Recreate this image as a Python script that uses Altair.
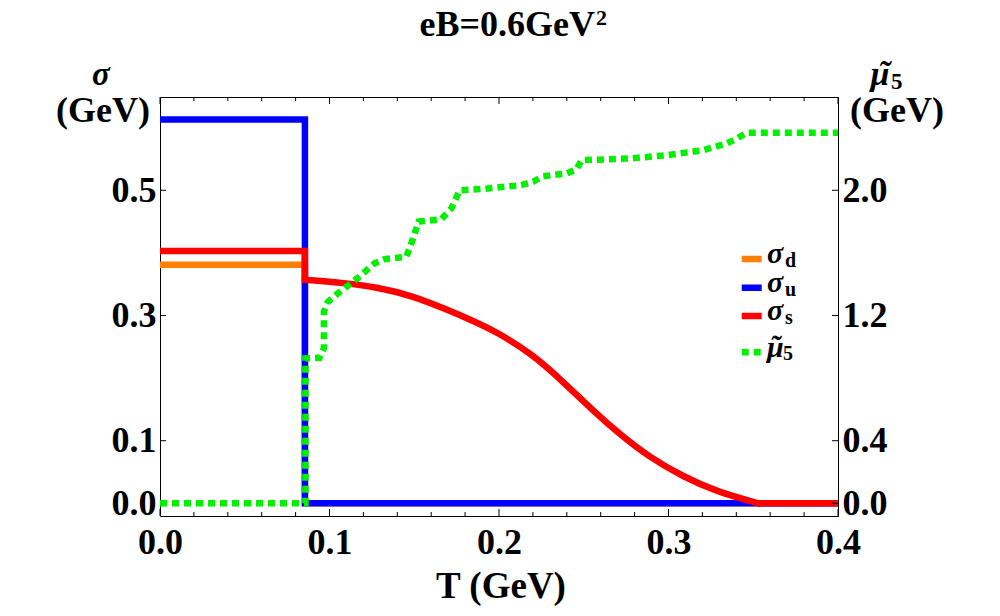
import altair as alt
import pandas as pd

# ---------------- data ----------------
sigma_d_T = [0.0, 0.0855, 0.0855, 0.4]
sigma_d = [0.381, 0.381, 0.0, 0.0]

sigma_u_T = [0.0, 0.0855, 0.0855, 0.4]
sigma_u = [0.613, 0.613, 0.0, 0.0]

# strange-quark condensate: step part, smooth part above Tc, and the zero tail
sigma_s_step_T = [0.0, 0.0855, 0.0855]
sigma_s_step = [0.403, 0.403, 0.357]
sigma_s_T = [0.0855, 0.1089, 0.1285, 0.1483, 0.168, 0.1876, 0.1975,
             0.2197, 0.2398, 0.2555, 0.2713, 0.289, 0.3087, 0.3284, 0.353]
sigma_s = [0.357, 0.352, 0.345, 0.332, 0.311, 0.288, 0.275,
           0.239, 0.189, 0.148, 0.110, 0.073, 0.0425, 0.0185, 0.0]
sigma_s_tail_T = [0.353, 0.4]
sigma_s_tail = [0.0, 0.0]

mu5_T = [0.0, 0.0858, 0.0858, 0.0941, 0.0967, 0.0967, 0.099, 0.1049, 0.1158, 0.1266,
         0.1325, 0.1453, 0.1483, 0.1526, 0.166, 0.1719, 0.1768, 0.1916, 0.2132, 0.2201,
         0.226, 0.2398, 0.2457, 0.2487, 0.2772, 0.2989, 0.3205, 0.3343, 0.3402, 0.3461, 0.4]
mu5 = [0.0, 0.0, 0.926, 0.930, 0.99, 1.224, 1.287, 1.341, 1.432, 1.533,
       1.56, 1.575, 1.66, 1.80, 1.815, 1.884, 2.0, 2.01, 2.033, 2.054,
       2.09, 2.107, 2.133, 2.192, 2.203, 2.224, 2.256, 2.299, 2.33, 2.367, 2.367]

x_major = [0.0, 0.1, 0.2, 0.3, 0.4]
x_minor = [0.02, 0.04, 0.06, 0.08, 0.12, 0.14, 0.16, 0.18, 0.22, 0.24, 0.26, 0.28,
           0.32, 0.34, 0.36, 0.38]
y_left_ticks = [0.0, 0.1, 0.3, 0.5]
y_right_ticks = [0.0, 0.4, 1.2, 2.0]

legend_names = ["σ", "σ", "σ", "μ"]
legend_subs = ["d", "u", "s", "5"]
legend_colors = ["#FF8000", "#0000FF", "#FF0000", "#00F000"]

title_text = "eB=0.6GeV"
title_sup = "2"
x_title_text = "T (GeV)"

# ---------------- styling ----------------
W, H = 678, 419
FONT = "Liberation Serif"
LW = 6.5
x_scale = alt.Scale(domain=[0, 0.4], nice=False, zero=False)
y_scale = alt.Scale(domain=[-0.0203, 0.649], nice=False, zero=False)
mu_scale = alt.Scale(domain=[-0.0812, 2.596], nice=False, zero=False)

common_axis = dict(format=".1f", ticks=False, domain=False, grid=False, title=None,
                   labelFont=FONT, labelFontSize=36, labelFontWeight="bold",
                   labelColor="black", labelFlush=False, labelOverlap=False)
x_axis = alt.Axis(values=x_major, labelPadding=9, orient="bottom", **common_axis)
y_axis = alt.Axis(values=y_left_ticks, labelPadding=4, orient="left", **common_axis)
mu_axis = alt.Axis(values=y_right_ticks, labelPadding=4, orient="right", **common_axis)


def df(T, v):
    return pd.DataFrame({"T": T, "v": v, "i": list(range(len(T)))})


def sigma_line(T, v, color, interp="linear", cap="butt"):
    return alt.Chart(df(T, v)).mark_line(
        color=color, strokeWidth=LW, strokeCap=cap, strokeJoin="miter",
        interpolate=interp, clip=True
    ).encode(
        x=alt.X("T:Q", scale=x_scale, axis=x_axis),
        y=alt.Y("v:Q", scale=y_scale, axis=y_axis),
        order=alt.Order("i:Q"),
    )


line_d = sigma_line(sigma_d_T, sigma_d, legend_colors[0])
line_u = sigma_line(sigma_u_T, sigma_u, legend_colors[1])
line_s_step = sigma_line(sigma_s_step_T, sigma_s_step, legend_colors[2], cap="square")
line_s = sigma_line(sigma_s_T, sigma_s, legend_colors[2], interp="basis", cap="round")
line_s_tail = sigma_line(sigma_s_tail_T, sigma_s_tail, legend_colors[2])


def xticks(vals, y0, y1):
    return alt.Chart(pd.DataFrame({"t": vals})).mark_rule(color="black", strokeWidth=1).encode(
        x=alt.X("t:Q", scale=x_scale, axis=x_axis),
        y=alt.value(y0), y2=alt.value(y1),
    )


tick_layers = [
    xticks(x_major, H, H - 7), xticks(x_minor, H, H - 4),
    xticks(x_major, 0, 7), xticks(x_minor, 0, 4),
]

ytick_left = alt.Chart(pd.DataFrame({"t": y_left_ticks})).mark_rule(color="black", strokeWidth=1).encode(
    y=alt.Y("t:Q", scale=y_scale, axis=y_axis),
    x=alt.value(0), x2=alt.value(6),
)

sigma_group = alt.layer(line_d, line_u, line_s_step, line_s, line_s_tail,
                        *tick_layers, ytick_left)

mu_line = alt.Chart(df(mu5_T, mu5)).mark_line(
    color=legend_colors[3], strokeWidth=LW, strokeDash=[7, 5], strokeCap="butt", clip=True
).encode(
    x=alt.X("T:Q", scale=x_scale, axis=x_axis),
    y=alt.Y("v:Q", scale=mu_scale, axis=mu_axis),
    order=alt.Order("i:Q"),
)
ytick_right = alt.Chart(pd.DataFrame({"t": y_right_ticks})).mark_rule(color="black", strokeWidth=1).encode(
    y=alt.Y("t:Q", scale=mu_scale, axis=mu_axis),
    x=alt.value(W), x2=alt.value(W - 6),
)
mu_group = alt.layer(mu_line, ytick_right)

one = alt.Data(values=[{"a": 1}])


def label(text, x, y, size, style="normal", align="center"):
    return alt.Chart(one).mark_text(
        text=text, font=FONT, fontSize=size, fontWeight="bold", fontStyle=style,
        align=align, baseline="alphabetic", color="black"
    ).encode(x=alt.value(x), y=alt.value(y))


texts = [
    label(title_text, 435, -61, 36, "normal", "right"),
    label(title_sup, 436, -72, 22, "normal", "left"),
    label(x_title_text, 341, 501, 37),
    label("σ", -59, -12, 33, "italic"),
    label("(GeV)", -57, 25, 36),
    label("μ", 720, -12, 34, "italic"),
    label("˜", 724, -13, 34, "italic"),
    label("5", 731, -8, 23, "normal", "left"),
    label("(GeV)", 737, 25, 36),
]

# legend (drawn by hand so the labels can carry subscripts)
sym_y = [162, 190.7, 219, 255.3]
name_y = [166.3, 194.7, 223, 259.7]
sub_y = [169.7, 198.7, 227, 263]
sub_x = [625, 625, 625, 623]
legend_layers = []
for k in range(4):
    rule = alt.Chart(one).mark_rule(
        color=legend_colors[k], strokeWidth=LW,
        strokeDash=[1, 0] if k < 3 else [7, 5], strokeCap="butt"
    ).encode(x=alt.value(581.7), x2=alt.value(601.7), y=alt.value(sym_y[k]))
    legend_layers.append(rule)
    legend_layers.append(label(legend_names[k], 607, name_y[k], 30, "italic", "left"))
    if k == 3:
        legend_layers.append(label("˜", 610, name_y[k] - 1, 30, "italic", "left"))
    legend_layers.append(label(legend_subs[k], sub_x[k], sub_y[k], 20, "normal", "left"))

chart = alt.layer(sigma_group, mu_group, *texts, *legend_layers).resolve_scale(
    y="independent"
).properties(
    width=W, height=H,
    background="white",
    padding={"left": 152, "top": 89, "right": 154, "bottom": 92},
    autosize=alt.AutoSizeParams(type="none"),
).configure_view(stroke="black", strokeWidth=1)

chart.save("out.html", embed_options={"renderer": "svg", "actions": False})
